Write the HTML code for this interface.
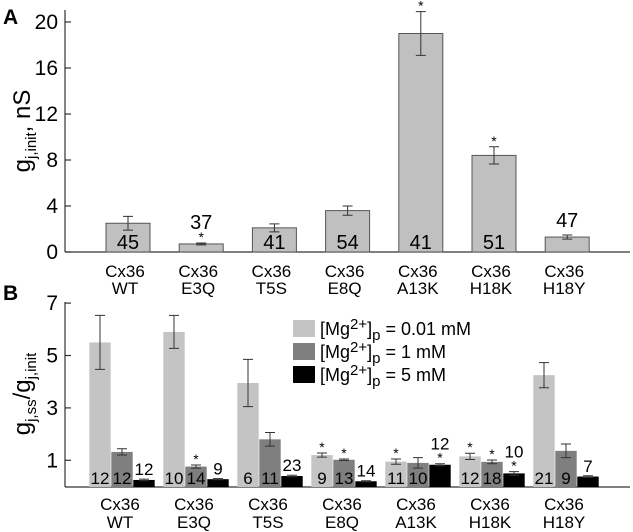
<!DOCTYPE html>
<html><head><meta charset="utf-8">
<style>
html,body{margin:0;padding:0;background:#fff;}
svg{display:block;font-family:"Liberation Sans",Arial,sans-serif;}
</style></head>
<body>
<svg id="chart" width="633" height="532" viewBox="0 0 633 532">
  <text x="3" y="24" font-size="21" font-weight="bold">A</text>
  <text x="3" y="300" font-size="21" font-weight="bold">B</text>
  <text transform="translate(30,131) rotate(-90)" text-anchor="middle" font-size="24">g<tspan font-size="15" dy="6">j,init</tspan><tspan dy="-6">, nS</tspan></text>
  <text transform="translate(30,394) rotate(-90)" text-anchor="middle" font-size="24">g<tspan font-size="15" dy="6">j,ss</tspan><tspan dy="-6">/g</tspan><tspan font-size="15" dy="6">j,init</tspan></text>
  <g id="pa"></g>
  <g id="pb"></g>
  <g font-size="18">
    <rect x="293" y="320" width="22" height="17" fill="#c4c4c4"/>
    <text x="320" y="335">[Mg<tspan dy="-6" font-size="15">2+</tspan><tspan dy="6">]</tspan><tspan dy="5" font-size="15">p</tspan><tspan dy="-5"> = 0.01 mM</tspan></text>
    <rect x="293" y="343" width="22" height="17" fill="#7f7f7f"/>
    <text x="320" y="358">[Mg<tspan dy="-6" font-size="15">2+</tspan><tspan dy="6">]</tspan><tspan dy="5" font-size="15">p</tspan><tspan dy="-5"> = 1 mM</tspan></text>
    <rect x="293" y="366" width="22" height="17" fill="#000"/>
    <text x="320" y="381">[Mg<tspan dy="-6" font-size="15">2+</tspan><tspan dy="6">]</tspan><tspan dy="5" font-size="15">p</tspan><tspan dy="-5"> = 5 mM</tspan></text>
  </g>
</svg>
<script>
const categories = ["WT","E3Q","T5S","E8Q","A13K","H18K","H18Y"];
// Panel A
const aValues = [2.5, 0.7, 2.1, 3.6, 19.0, 8.4, 1.3];
const aErrors = [0.6, 0.08, 0.35, 0.4, 1.9, 0.75, 0.18];
const aCounts = ["45","37","41","54","41","51","47"];
const aCountAbove = [false,true,false,false,false,false,true];
const aStars = [false,true,false,false,true,true,false];
const aTicks = [0,4,8,12,16,20];
// Panel B
const bLow = [5.5, 5.9, 3.95, 1.2, 0.95, 1.15, 4.25];
const bLowErr = [1.03, 0.63, 0.9, 0.08, 0.1, 0.12, 0.48];
const bMid = [1.32, 0.76, 1.8, 1.02, 0.9, 0.94, 1.36];
const bMidErr = [0.12, 0.06, 0.26, 0.03, 0.2, 0.07, 0.26];
const bHigh = [0.25, 0.28, 0.4, 0.2, 0.83, 0.5, 0.38];
const bHighErr = [0.03, 0.02, 0.03, 0.02, 0.04, 0.07, 0.03];
const bLowN = ["12","10","6","9","11","12","21"];
const bMidN = ["12","14","11","13","10","18","9"];
const bHighN = ["12","9","23","14","12","10","7"];
const bLowStar = [false,false,false,true,true,true,false];
const bMidStar = [false,true,false,true,false,true,false];
const bHighStar = [false,false,false,false,true,true,false];
const bTicks = [1,3,5,7];

const NS="http://www.w3.org/2000/svg";
function mk(parent, tag, attrs, txt){
  const e=document.createElementNS(NS,tag);
  for(const k in attrs) e.setAttribute(k,attrs[k]);
  if(txt!==undefined) e.textContent=txt;
  parent.appendChild(e); return e;
}
const catX = i => 128 + i*73.2;
// ---- Panel A
const pa=document.getElementById('pa');
const yA = v => 252 - v*11.5;
let e;
e=mk(pa,'line',{x1:65,y1:10,x2:65,y2:252,stroke:'#333','stroke-width':1.2});


e=mk(pa,'line',{x1:65,y1:252,x2:630,y2:252,stroke:'#333','stroke-width':1.2});


aTicks.forEach(t=>{
  e=mk(pa,'line',{x1:65,y1:yA(t),x2:71,y2:yA(t),stroke:'#333','stroke-width':1.2});
  
  
  e=mk(pa,'text',{x:58,y:yA(t)+7,'text-anchor':'end','font-size':21},String(t));
  
  
});
categories.forEach((c,i)=>{
  const cx=catX(i), v=aValues[i], er=aErrors[i];
  e=mk(pa,'rect',{x:cx-22,y:yA(v),width:44,height:252-yA(v),fill:'#c0c0c0',stroke:'#555','stroke-width':1});
  
  
  const t=yA(v+er), b=yA(v-er);
  e=mk(pa,'path',{d:`M${cx} ${t}V${b}M${cx-5} ${t}H${cx+5}M${cx-5} ${b}H${cx+5}`,stroke:'#333','stroke-width':1,fill:'none'});
  
  
  if(aStars[i]){
    e=mk(pa,'text',{x:cx,y:t-1,'text-anchor':'middle','font-size':14},'*');
    
    
  }
  const ny = aCountAbove[i] ? (aStars[i]? t-14 : t-8) : 249;
  e=mk(pa,'text',{x:cx,y:ny,'text-anchor':'middle','font-size':20},aCounts[i]);
  
  
  e=mk(pa,'text',{x:cx-3,y:277,'text-anchor':'middle','font-size':17},'Cx36');
  
  
  e=mk(pa,'text',{x:cx-3,y:294,'text-anchor':'middle','font-size':17},c);
  
  
});
// ---- Panel B
const pb=document.getElementById('pb');
const yB = v => 486.5 - v*26.2;
e=mk(pb,'line',{x1:65,y1:302,x2:65,y2:487,stroke:'#333','stroke-width':1.2});


e=mk(pb,'line',{x1:65,y1:487,x2:630,y2:487,stroke:'#333','stroke-width':1.2});


bTicks.forEach(t=>{
  e=mk(pb,'line',{x1:65,y1:yB(t),x2:71,y2:yB(t),stroke:'#333','stroke-width':1.2});
  
  
  e=mk(pb,'text',{x:58,y:yB(t)+7,'text-anchor':'end','font-size':21},String(t));
  
  
});
const series=[
  {v:bLow,e:bLowErr,n:bLowN,s:bLowStar,fill:'#c4c4c4',off:-22,inside:true,name:'low'},
  {v:bMid,e:bMidErr,n:bMidN,s:bMidStar,fill:'#7f7f7f',off:0,inside:true,name:'mid'},
  {v:bHigh,e:bHighErr,n:bHighN,s:bHighStar,fill:'#000',off:22,inside:false,name:'high'}
];
categories.forEach((c,i)=>{
  const gc = 122 + i*74;
  series.forEach(sr=>{
    const cx=gc+sr.off, v=sr.v[i], er=sr.e[i];
    e=mk(pb,'rect',{x:cx-10.7,y:yB(v),width:21.4,height:487-yB(v),fill:sr.fill});
    
    
    const t=yB(v+er), b=yB(v-er);
    e=mk(pb,'path',{d:`M${cx} ${t}V${b}M${cx-5} ${t}H${cx+5}M${cx-5} ${b}H${cx+5}`,stroke:'#333','stroke-width':1,fill:'none'});
    
    
    let top=t;
    if(sr.s[i]){
      e=mk(pb,'text',{x:cx,y:t-1,'text-anchor':'middle','font-size':14},'*');
      
      
      top=t-10;
    }
    const ny = sr.inside ? 484 : top-4;
    e=mk(pb,'text',{x:cx,y:ny,'text-anchor':'middle','font-size':17},sr.n[i]);
    
    
  });
  e=mk(pb,'text',{x:gc-2,y:510,'text-anchor':'middle','font-size':17},'Cx36');
  
  
  e=mk(pb,'text',{x:gc-2,y:528,'text-anchor':'middle','font-size':17},c);
  
  
});
</script>
</body></html>
